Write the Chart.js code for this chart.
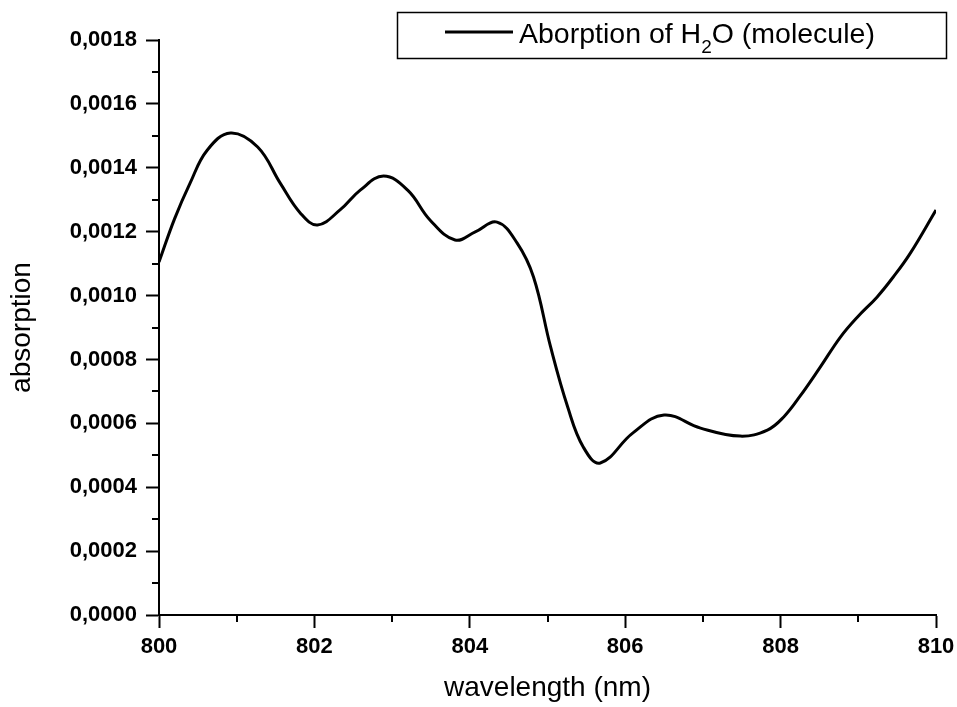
<!DOCTYPE html>
<html>
<head>
<meta charset="utf-8">
<script src="https://cdn.jsdelivr.net/npm/chart.js@4.4.0/dist/chart.umd.min.js"></script>
<style>
  html, body { margin: 0; padding: 0; background: #fff; }
  #wrap { width: 957px; height: 707px; }
</style>
</head>
<body>
<div id="wrap"><canvas id="absChart" width="957" height="707"></canvas></div>
<script>
// wavelength (nm) and absorption values
let wavelength = [800.0, 800.2, 800.4, 800.62, 800.92, 801.27, 801.56, 801.82, 802.04, 802.33,
    802.59, 802.89, 803.2, 803.49, 803.81, 804.07, 804.35, 804.61, 804.82, 805.04,
    805.26, 805.46, 805.68, 806.1, 806.5, 806.97, 807.48, 807.83, 808.04, 808.25,
    808.51, 808.77, 808.99, 809.24, 809.45, 809.67, 810.0];
let absorption = [0.001105, 0.00124, 0.001352, 0.001455, 0.001509, 0.001465, 0.001352, 0.001258, 0.001221, 0.001268,
    0.00133, 0.001374, 0.00133, 0.001236, 0.001174, 0.001199, 0.00123, 0.001164, 0.001058, 0.000839,
    0.000651, 0.000526, 0.000476, 0.00057, 0.000626, 0.000585, 0.00056, 0.000579, 0.00062, 0.000685,
    0.000776, 0.00087, 0.000933, 0.000995, 0.001058, 0.001133, 0.001268];

let xMajorTicks = [800, 802, 804, 806, 808, 810];
let xMinorTicks = [801, 803, 805, 807, 809];
let yMajorTicks = [0, 0.0002, 0.0004, 0.0006, 0.0008, 0.001, 0.0012, 0.0014, 0.0016, 0.0018];
let yMinorTicks = [0.0001, 0.0003, 0.0005, 0.0007, 0.0009, 0.0011, 0.0013, 0.0015, 0.0017];

let seriesLabel = "Aborption of H₂O (molecule)";

const FONT = "'Liberation Sans', Arial, sans-serif";

let points = wavelength.map((w, i) => ({ x: w, y: absorption[i] }));

// small outward minor ticks + boxed legend with subscript
const extrasPlugin = {
    id: "extras",
    afterDraw(chart) {
        let ctx = chart.ctx;
        let xs = chart.scales.x;
        let ys = chart.scales.y;
        let area = chart.chartArea;

        ctx.save();
        ctx.strokeStyle = "#000";
        ctx.lineWidth = 2;
        ctx.beginPath();
        xMinorTicks.forEach(v => {
            let px = Math.round(xs.getPixelForValue(v));
            ctx.moveTo(px, area.bottom);
            ctx.lineTo(px, area.bottom + 7);
        });
        yMinorTicks.forEach(v => {
            let py = Math.round(ys.getPixelForValue(v));
            ctx.moveTo(area.left, py);
            ctx.lineTo(area.left - 7, py);
        });
        ctx.stroke();

        // legend box
        ctx.lineWidth = 1.5;
        ctx.strokeRect(397.5, 12.5, 549, 46);
        ctx.lineWidth = 3;
        ctx.beginPath();
        ctx.moveTo(445, 32);
        ctx.lineTo(513, 32);
        ctx.stroke();

        ctx.fillStyle = "#000";
        ctx.textBaseline = "alphabetic";
        ctx.textAlign = "left";
        ctx.font = "28.5px " + FONT;
        let parts = seriesLabel.split("₂");
        let x = 519;
        ctx.fillText(parts[0], x, 43);
        x += ctx.measureText(parts[0]).width;
        ctx.font = "19px " + FONT;
        ctx.fillText("2", x, 53);
        x += ctx.measureText("2").width;
        ctx.font = "28.5px " + FONT;
        ctx.fillText(parts[1], x, 43);
        ctx.restore();
    }
};

let ctx = document.getElementById("absChart").getContext("2d");

new Chart(ctx, {
    type: "line",
    data: {
        datasets: [{
            label: seriesLabel,
            data: points,
            borderColor: "#000",
            borderWidth: 3,
            pointRadius: 0,
            fill: false,
            tension: 0.4
        }]
    },
    options: {
        responsive: false,
        animation: false,
        events: [],
        layout: { padding: { left: 0, right: 21, top: 40, bottom: 0 } },
        plugins: {
            legend: { display: false },
            tooltip: { enabled: false }
        },
        scales: {
            x: {
                type: "linear",
                min: 800,
                max: 810,
                afterFit: s => { s.height = 92; s.paddingLeft = 0; s.paddingRight = 0; },
                afterBuildTicks: s => { s.ticks = xMajorTicks.map(v => ({ value: v })); },
                border: { display: true, color: "#000", width: 2 },
                grid: { drawOnChartArea: false, tickLength: 13, tickColor: "#000", tickWidth: 2 },
                ticks: {
                    color: "#000",
                    padding: 6,
                    font: { family: FONT, size: 22, weight: "bold" },
                    callback: v => String(v)
                },
                title: {
                    display: true,
                    text: "wavelength (nm)",
                    color: "#000",
                    padding: { top: 0, bottom: 2 },
                    font: { family: FONT, size: 28 }
                }
            },
            y: {
                min: 0,
                max: 0.0018,
                afterFit: s => { s.width = 159; s.paddingTop = 0; s.paddingBottom = 0; },
                afterBuildTicks: s => { s.ticks = yMajorTicks.map(v => ({ value: v })); },
                border: { display: true, color: "#000", width: 2 },
                grid: { drawOnChartArea: false, tickLength: 13, tickColor: "#000", tickWidth: 2 },
                ticks: {
                    color: "#000",
                    padding: 9,
                    font: { family: FONT, size: 22, weight: "bold" },
                    callback: v => v.toFixed(4).replace(".", ",")
                },
                title: {
                    display: true,
                    text: "absorption",
                    color: "#000",
                    padding: { top: 5, bottom: 0 },
                    font: { family: FONT, size: 28 }
                }
            }
        }
    },
    plugins: [extrasPlugin]
});
</script>
</body>
</html>
